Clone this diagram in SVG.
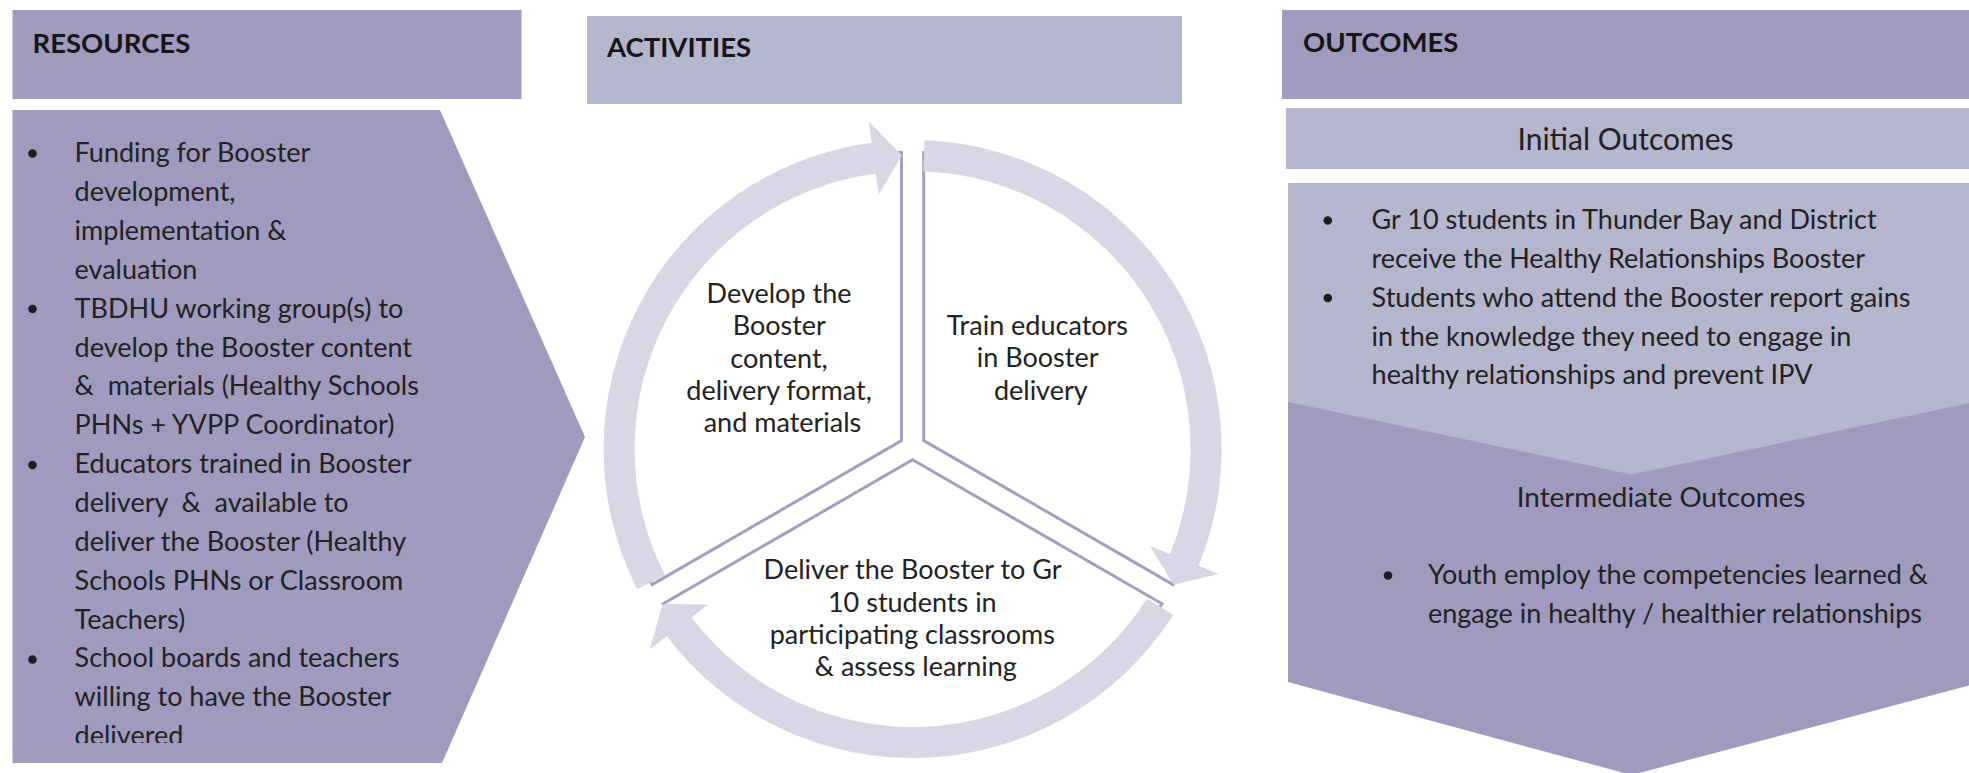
<svg xmlns="http://www.w3.org/2000/svg" width="1969" height="773" viewBox="0 0 1969 773">
  <style>
    .dark { fill: #9f9abe; }
    .light { fill: #b5b5cd; }
    .ring { fill: #d7d7e5; }
    .wedge { fill: #ffffff; stroke: #a2a1bd; stroke-width: 3; stroke-linejoin: miter; }
    .hdr { font-family: Lato, "Liberation Sans", sans-serif; font-weight: bold; font-size: 27.5px; fill: #161616; }
    .txt { font-family: Lato, "Liberation Sans", sans-serif; font-size: 27px; fill: #222222; }
    .mid { text-anchor: middle; }
    .dot { fill: #1e1e1e; }
  </style>
  <defs>
    <clipPath id="resClip">
      <rect x="12" y="110" width="580" height="633"/>
    </clipPath>
  </defs>

  <rect width="1969" height="773" fill="#ffffff"/>

  <!-- Resources column -->
  <g id="resources-header">
    <rect class="dark" x="12.5" y="10" width="509" height="89"/>
    <text class="hdr" x="32.5" y="53">RESOURCES</text>
  </g>
  <g id="resources-body">
    <path class="dark" d="M12.5,110 L440,110 L585,437 L442,763 L12.5,763 Z"/>
    <g clip-path="url(#resClip)">
      <circle class="dot" cx="32.5" cy="153.5" r="4.3"/>
      <circle class="dot" cx="32.5" cy="309" r="4.3"/>
      <circle class="dot" cx="32.5" cy="465" r="4.3"/>
      <circle class="dot" cx="32.5" cy="659.5" r="4.3"/>
      <text class="txt">
        <tspan x="74.6" y="162.3">Funding for Booster</tspan>
        <tspan x="74.6" y="201.2">development,</tspan>
        <tspan x="74.6" y="240">implementation &amp;</tspan>
        <tspan x="74.6" y="278.9">evaluation</tspan>
        <tspan x="74.6" y="317.7">TBDHU working group(s) to</tspan>
        <tspan x="74.6" y="356.6">develop the Booster content</tspan>
        <tspan x="74.6" y="395.4">&amp;&#160; materials (Healthy Schools</tspan>
        <tspan x="74.6" y="434.3">PHNs + YVPP Coordinator)</tspan>
        <tspan x="74.6" y="473.1">Educators trained in Booster</tspan>
        <tspan x="74.6" y="512">delivery&#160; &amp;&#160; available to</tspan>
        <tspan x="74.6" y="550.8">deliver the Booster (Healthy</tspan>
        <tspan x="74.6" y="589.7">Schools PHNs or Classroom</tspan>
        <tspan x="74.6" y="628.5">Teachers)</tspan>
        <tspan x="74.6" y="667.4">School boards and teachers</tspan>
        <tspan x="74.6" y="706.2">willing to have the Booster</tspan>
        <tspan x="74.6" y="745.1">delivered</tspan>
      </text>
    </g>
  </g>

  <!-- Activities column -->
  <g id="activities-header">
    <rect class="light" x="587" y="16" width="595" height="88"/>
    <text class="hdr" x="607" y="57">ACTIVITIES</text>
  </g>

  <g id="activity-develop">
    <path class="wedge" d="M901.5,440.6 L652.1,584.6 A288,288 0 0 1 901.5,152.6 Z"/>
    <text class="txt mid">
      <tspan x="782.5" y="303.3">Develop the</tspan>
      <tspan x="782.5" y="335.4">Booster</tspan>
      <tspan x="782.5" y="367.5">content,</tspan>
      <tspan x="782.5" y="399.6">delivery format,</tspan>
      <tspan x="782.5" y="431.7">and materials</tspan>
    </text>
  </g>
  <g id="activity-train">
    <path class="wedge" d="M923.7,440.6 L923.7,152.6 A288,288 0 0 1 1173.1,584.6 Z"/>
    <text class="txt mid">
      <tspan x="1040.8" y="335.2">Train educators</tspan>
      <tspan x="1040.8" y="367.3">in Booster</tspan>
      <tspan x="1040.8" y="399.5">delivery</tspan>
    </text>
  </g>
  <g id="activity-deliver">
    <path class="wedge" d="M912.6,459.8 L1162,603.8 A288,288 0 0 1 663.2,603.8 Z"/>
    <text class="txt mid">
      <tspan x="915.8" y="579.3">Deliver the Booster to Gr</tspan>
      <tspan x="915.8" y="611.5">10 students in</tspan>
      <tspan x="915.8" y="643.7">participating classrooms</tspan>
      <tspan x="915.8" y="675.9">&amp; assess learning</tspan>
    </text>
  </g>

  <!-- Cycle arrows between the activities -->
  <g id="connectors">
    <path class="ring" d="M637.3,589.3 A309,309 0 0 1 871.7,142.7 L868.9,121.4 L901.8,155.2 L878.7,194.8 L875.8,173.4 A278,278 0 0 0 664.9,575.2 Z"/>
    <path class="ring" d="M924.5,140.2 A309,309 0 0 1 1198.7,565.7 L1218.6,573.9 L1173.4,584.7 L1150.1,545.9 L1170.0,554.0 A278,278 0 0 0 923.3,171.2 Z"/>
    <path class="ring" d="M1173.2,615.0 A309,309 0 0 1 666.8,636.3 L649.7,649.3 L662.7,603.9 L708.6,604.4 L691.5,617.5 A278,278 0 0 0 1147.1,598.4 Z"/>
  </g>

  <!-- Outcomes column -->
  <g id="outcomes-header">
    <rect class="dark" x="1282" y="10" width="687" height="89"/>
    <text class="hdr" x="1303" y="52">OUTCOMES</text>
  </g>
  <g id="intermediate-outcomes">
    <path class="dark" d="M1288,380 L1975,380 L1975,684 L1631.5,775 L1288,682 Z"/>
    <text class="txt mid" x="1661" y="506.5" style="font-size:27.8px">Intermediate Outcomes</text>
    <circle class="dot" cx="1388" cy="575.5" r="4.3"/>
    <text class="txt">
      <tspan x="1428" y="584">Youth employ the competencies learned &amp;</tspan>
      <tspan x="1428" y="622.7">engage in healthy / healthier relationships</tspan>
    </text>
  </g>
  <g id="initial-outcomes-body">
    <path class="light" d="M1288,183 L1975,183 L1975,402 L1631.5,474.5 L1288,402 Z"/>
    <circle class="dot" cx="1327.8" cy="220.5" r="4.3"/>
    <circle class="dot" cx="1327.8" cy="298" r="4.3"/>
    <text class="txt">
      <tspan x="1371.6" y="229.3">Gr 10 students in Thunder Bay and District</tspan>
      <tspan x="1371.6" y="268.1">receive the Healthy Relationships Booster</tspan>
      <tspan x="1371.6" y="306.8">Students who attend the Booster report gains</tspan>
      <tspan x="1371.6" y="345.6">in the knowledge they need to engage in</tspan>
      <tspan x="1371.6" y="384.3">healthy relationships and prevent IPV</tspan>
    </text>
  </g>
  <g id="initial-outcomes-title">
    <rect class="light" x="1286" y="108" width="683" height="61"/>
    <text class="txt mid" x="1625.5" y="150" style="font-size:30px">Initial Outcomes</text>
  </g>
</svg>
